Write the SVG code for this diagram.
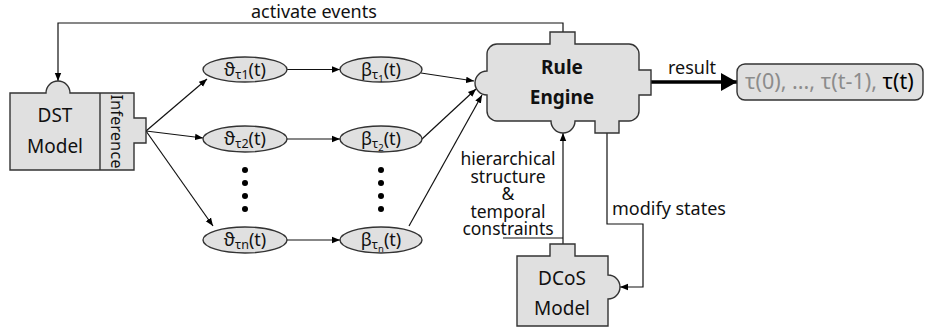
<svg xmlns="http://www.w3.org/2000/svg" width="925" height="331" viewBox="0 0 925 331">
  <defs>
    <style>
      .shape { fill: #e0e0e0; stroke: #333; stroke-width: 1.4; }
      .line { fill: none; stroke: #111; stroke-width: 1.2; }
      .thick { fill: none; stroke: #000; stroke-width: 3.5; }
      text { font-family: "Noto Sans", "Open Sans", "DejaVu Sans", sans-serif; fill: #111; }
      .lbl { font-size: 18px; }
      .stack { font-size: 17.5px; text-anchor: middle; }
      .node { font-size: 19px; text-anchor: middle; }
      .ell { font-size: 18px; text-anchor: middle; }
      .sub { font-size: 12.5px; }
      .subsub { font-size: 9.5px; }
      .dot { fill: #000; }
    </style>
    <marker id="arr" viewBox="0 0 10 10" refX="10" refY="5" markerWidth="8" markerHeight="8" markerUnits="userSpaceOnUse" orient="auto">
      <path d="M0,1 L10,5 L0,9 Z" fill="#000"/>
    </marker>
    <marker id="bigarr" viewBox="0 0 10 10" refX="10" refY="5" markerWidth="16" markerHeight="18" markerUnits="userSpaceOnUse" orient="auto" preserveAspectRatio="none">
      <path d="M0,0 L10,5 L0,10 Z" fill="#000"/>
    </marker>
  </defs>

  <!-- connectors -->
  <g id="connectors">
    <polyline class="line" points="563,32 563,23 58,23 58,81" marker-end="url(#arr)"/>
    <line class="line" x1="146" y1="131" x2="207" y2="79" marker-end="url(#arr)"/>
    <line class="line" x1="146" y1="131" x2="203" y2="138" marker-end="url(#arr)"/>
    <line class="line" x1="146" y1="131" x2="213" y2="226" marker-end="url(#arr)"/>
    <line class="line" x1="287" y1="69.5" x2="340" y2="69.5" marker-end="url(#arr)"/>
    <line class="line" x1="287" y1="139" x2="340" y2="139" marker-end="url(#arr)"/>
    <line class="line" x1="287" y1="240" x2="340" y2="240" marker-end="url(#arr)"/>
    <line class="line" x1="421" y1="73" x2="474" y2="81" marker-end="url(#arr)"/>
    <line class="line" x1="422" y1="139" x2="476" y2="89" marker-end="url(#arr)"/>
    <line class="line" x1="409" y1="226" x2="482" y2="95" marker-end="url(#arr)"/>
    <line class="thick" x1="651" y1="82" x2="737" y2="82" marker-end="url(#bigarr)"/>
    <line class="line" x1="563" y1="244" x2="563" y2="133" marker-end="url(#arr)"/>
    <line class="line" x1="503" y1="238" x2="563" y2="238"/>
    <polyline class="line" points="607,133 607,224 643,224 643,287 620,287" marker-end="url(#arr)"/>
    <text class="lbl" x="251" y="18">activate events</text>
    <text class="lbl" x="668" y="74">result</text>
    <text class="lbl" x="612" y="215">modify states</text>
    <g class="stack">
      <text x="508" y="165">hierarchical</text>
      <text x="508" y="182.5">structure</text>
      <text x="508" y="200">&amp;</text>
      <text x="508" y="217.5">temporal</text>
      <text x="508" y="235">constraints</text>
    </g>
  </g>

  <!-- DST model with inference port -->
  <g id="dst-model">
    <path class="shape" d="M10,93 H46 A12,12 0 0 1 70,93 H134 V118 H146 V143 H134 V170 H10 Z"/>
    <line x1="100" y1="93" x2="100" y2="170" style="stroke:#333;stroke-width:1.4"/>
    <text class="node" x="55" y="122">DST</text>
    <text class="node" x="55" y="153">Model</text>
    <text x="0" y="0" font-size="16.5" text-anchor="middle" transform="translate(111,131.5) rotate(90)">Inference</text>
  </g>

  <!-- theta nodes -->
  <g id="theta-1">
    <ellipse class="shape" cx="245" cy="69.5" rx="42" ry="12.5"/>
    <text class="ell" x="245" y="75.5">ϑ<tspan class="sub" dy="3">τ1</tspan><tspan dy="-3">(t)</tspan></text>
  </g>
  <g id="theta-2">
    <ellipse class="shape" cx="245" cy="139" rx="42" ry="13"/>
    <text class="ell" x="245" y="145">ϑ<tspan class="sub" dy="3">τ2</tspan><tspan dy="-3">(t)</tspan></text>
  </g>
  <g id="theta-n">
    <ellipse class="shape" cx="245" cy="240" rx="42" ry="13"/>
    <text class="ell" x="245" y="246">ϑ<tspan class="sub" dy="3">τn</tspan><tspan dy="-3">(t)</tspan></text>
  </g>

  <!-- beta nodes -->
  <g id="beta-1">
    <ellipse class="shape" cx="381" cy="69.5" rx="41" ry="12.5"/>
    <text class="ell" x="381" y="75.5">β<tspan class="sub" dy="3">τ</tspan><tspan class="subsub" dy="3">1</tspan><tspan dy="-6">(t)</tspan></text>
  </g>
  <g id="beta-2">
    <ellipse class="shape" cx="381" cy="139" rx="41" ry="13"/>
    <text class="ell" x="381" y="145">β<tspan class="sub" dy="3">τ</tspan><tspan class="subsub" dy="3">2</tspan><tspan dy="-6">(t)</tspan></text>
  </g>
  <g id="beta-n">
    <ellipse class="shape" cx="381" cy="240" rx="41" ry="13"/>
    <text class="ell" x="381" y="246">β<tspan class="sub" dy="3">τ</tspan><tspan class="subsub" dy="3">n</tspan><tspan dy="-6">(t)</tspan></text>
  </g>

  <!-- ellipsis dots -->
  <g id="dots">
    <circle class="dot" cx="245" cy="170" r="3"/>
    <circle class="dot" cx="245" cy="183" r="3"/>
    <circle class="dot" cx="245" cy="196" r="3"/>
    <circle class="dot" cx="245" cy="209" r="3"/>
    <circle class="dot" cx="381" cy="170" r="3"/>
    <circle class="dot" cx="381" cy="183" r="3"/>
    <circle class="dot" cx="381" cy="196" r="3"/>
    <circle class="dot" cx="381" cy="209" r="3"/>
  </g>

  <!-- rule engine -->
  <g id="rule-engine">
    <path class="shape" d="M497,44 H550 V32 H575 V44 H629 A10,10 0 0 1 639,54 V70 H651 V95 H639 V111 A10,10 0 0 1 629,121 H619 V133 H595 V121 H575 A12,12 0 0 1 551,121 H497 A10,10 0 0 1 487,111 V95 A12,12 0 0 1 487,71 V54 A10,10 0 0 1 497,44 Z"/>
    <text class="node" x="562" y="74" font-weight="bold">Rule</text>
    <text class="node" x="562" y="104" font-weight="bold">Engine</text>
  </g>

  <!-- output sequence -->
  <g id="result-seq">
    <rect class="shape" x="737" y="64" width="186" height="36" rx="8"/>
    <text x="745" y="89" font-size="21.5"><tspan fill="#8c8c8c">τ(0), ..., τ(t-1), </tspan><tspan fill="#000">τ(t)</tspan></text>
  </g>

  <!-- DCoS model -->
  <g id="dcos-model">
    <path class="shape" d="M517,256 H550 V244 H575 V256 H608 V275 A12,12 0 0 1 608,299 V326 H517 Z"/>
    <text class="node" x="562" y="285">DCoS</text>
    <text class="node" x="562" y="315">Model</text>
  </g>
</svg>
